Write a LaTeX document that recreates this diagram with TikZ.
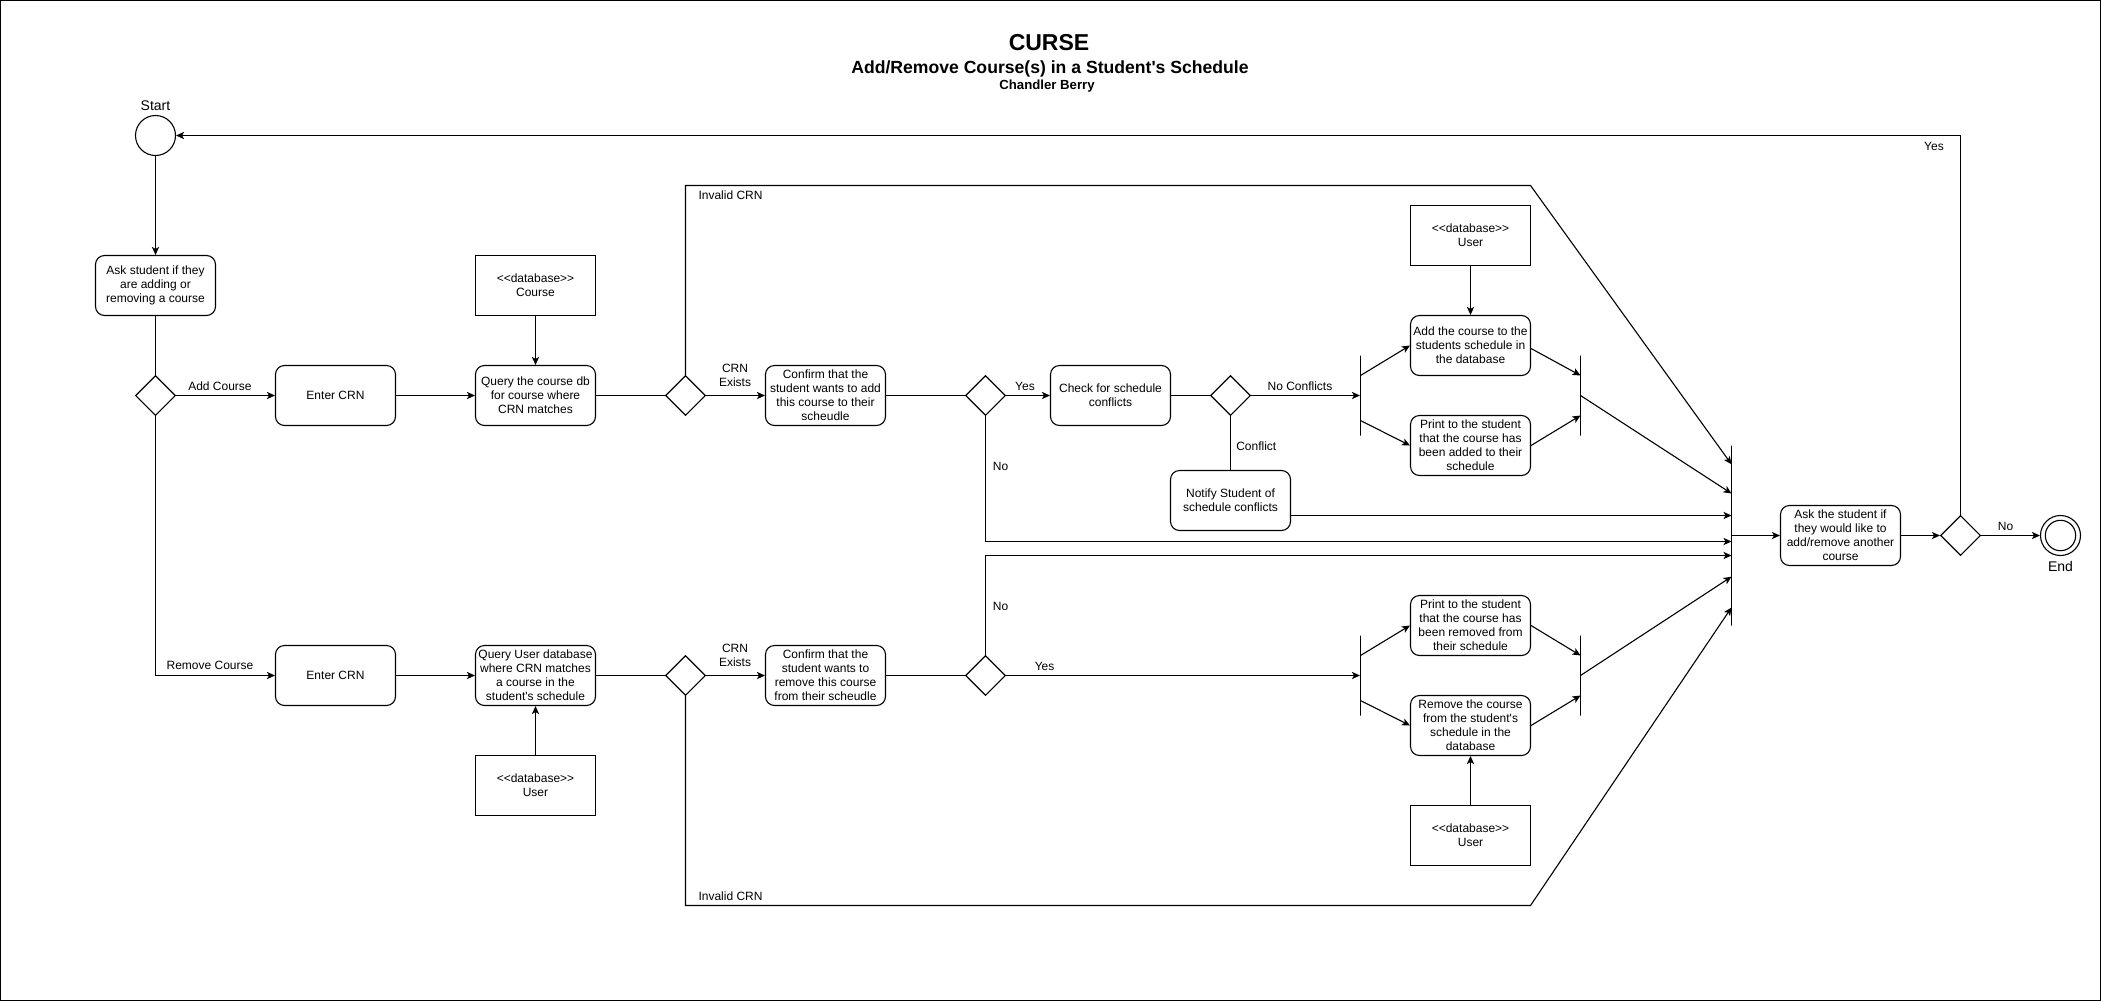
\documentclass[tikz,border=0pt]{standalone}
\usepackage{fontspec}
\newfontfamily\nf{Liberation Sans}
\usetikzlibrary{shapes.geometric,arrows.meta}
\begin{document}
\begin{tikzpicture}[x=0.5pt,y=-0.5pt, line width=0.55pt,
  >={Stealth[length=4pt,width=3.6pt,inset=1pt]},
  every node/.style={font=\nf\fontsize{6}{7}\selectfont, inner sep=0pt},
  act/.style={draw, rounded corners=4.5pt, minimum width=60pt, minimum height=30pt, align=center},
  dbbox/.style={draw, minimum width=60pt, minimum height=30pt, align=center},
  dec/.style={draw, diamond, aspect=1, minimum width=20pt, minimum height=20pt},
  barnode/.style={draw, rectangle, minimum width=0pt, inner sep=0pt},
  lbl/.style={align=center},
  biglbl/.style={font=\nf\fontsize{7}{8}\selectfont}]
\useasboundingbox (0,0) rectangle (2101,1002);
\draw (0.5,0.5) rectangle (2100.5,1000.5);

% title
\node[anchor=base, font=\nf\bfseries\fontsize{11.5}{13}\selectfont] (t1) at (1049,50) {CURSE};
\node[anchor=base, font=\nf\bfseries\fontsize{8.8}{10}\selectfont] (t2) at (1050,73) {Add/Remove Course(s) in a Student's Schedule};
\node[anchor=base, font=\nf\bfseries\fontsize{6.6}{8}\selectfont] (t3) at (1047,89.5) {Chandler Berry};

% start / end
\node[draw, circle, minimum size=20pt] (start) at (155.5,135.5) {};
\node[biglbl] (startlbl) at (155.5,106) {Start};
\node[draw, circle, minimum size=20pt] (end) at (2060.5,535.5) {};
\draw (end.center) circle[radius=7.6pt];
\node[biglbl] (endlbl) at (2060.5,566) {End};

% column 1
\node[act] (ask) at (155.5,285.5) {Ask student if they\\are adding or\\removing a course};
\node[dec] (d0) at (155.5,395.5) {};
\node[act] (enter1) at (335.5,395.5) {Enter CRN};
\node[act] (enter2) at (335.5,675.5) {Enter CRN};

% column 2
\node[dbbox] (dbc) at (535.5,285.5) {<<database>>\\Course};
\node[act] (qc) at (535.5,395.5) {Query the course db\\for course where\\CRN matches};
\node[act] (qu) at (535.5,675.5) {Query User database\\where CRN matches\\a course in the\\student's schedule};
\node[dbbox] (dbu2) at (535.5,785.5) {<<database>>\\User};

% column 3
\node[dec] (d1) at (685.5,395.5) {};
\node[dec] (d4) at (685.5,675.5) {};
\node[act] (conf1) at (825.5,395.5) {Confirm that the\\student wants to add\\this course to their\\scheudle};
\node[act] (conf2) at (825.5,675.5) {Confirm that the\\student wants to\\remove this course\\from their scheudle};
\node[dec] (d2) at (985.5,395.5) {};
\node[dec] (d5) at (985.5,675.5) {};
\node[act] (chk) at (1110.5,395.5) {Check for schedule\\conflicts};
\node[dec] (d3) at (1230.5,395.5) {};
\node[act] (notify) at (1230.5,500.5) {Notify Student of\\schedule conflicts};

% fork / join top
\node[barnode, minimum height=40pt] (fork1) at (1360.5,395.5) {};
\node[dbbox] (dbu1) at (1470.5,235.5) {<<database>>\\User};
\node[act] (addc) at (1470.5,345.5) {Add the course to the\\students schedule in\\the database};
\node[act] (prad) at (1470.5,445.5) {Print to the student\\that the course has\\been added to their\\schedule};
\node[barnode, minimum height=40pt] (join1) at (1580.5,395.5) {};

% fork / join bottom
\node[barnode, minimum height=40pt] (fork2) at (1360.5,675.5) {};
\node[act] (prrm) at (1470.5,625.5) {Print to the student\\that the course has\\been removed from\\their schedule};
\node[act] (rmc) at (1470.5,725.5) {Remove the course\\from the student's\\schedule in the\\database};
\node[dbbox] (dbu3) at (1470.5,835.5) {<<database>>\\User};
\node[barnode, minimum height=40pt] (join2) at (1580.5,675.5) {};

% merge and end
\node[barnode, minimum height=90pt] (merge) at (1731.5,535.5) {};
\node[act] (askag) at (1840.5,535.5) {Ask the student if\\they would like to\\add/remove another\\course};
\node[dec] (dfin) at (1960.5,535.5) {};

% connectors
\draw[->] (start) -- (ask);
\draw (ask) -- (d0);
\draw[->] (d0) -- (enter1);
\draw[->] (d0.south) |- (enter2.west);
\draw[->] (enter1) -- (qc);
\draw[->] (enter2) -- (qu);
\draw[->] (dbc) -- (qc);
\draw[->] (dbu2) -- (qu);
\draw (qc) -- (d1);
\draw (qu) -- (d4);
\draw[->] (d1) -- (conf1);
\draw[->] (d4) -- (conf2);
\draw (conf1) -- (d2);
\draw (conf2) -- (d5);
\draw[->] (d2) -- (chk);
\draw (chk) -- (d3);
\draw[->] (d3) -- (fork1);
\draw (d3) -- (notify);
\draw[->] (notify.east |- 0,515.5) -- (merge.center |- 0,515.5);
\draw[->] (d2.south) |- (merge.center |- 0,541.5);
\draw[->] (d5.north) |- (merge.center |- 0,555.5);
\draw[->] (d5) -- (fork2);
\draw[->] (d1.north) -- (685.5,185.5) -- (1530.5,185.5) -- (merge.center |- 0,464.3);
\draw[->] (d4.south) -- (685.5,905.5) -- (1530.5,905.5) -- (merge.center |- 0,607.5);

\draw[->] ([yshift=10pt]fork1.center) -- (addc.west);
\draw[->] ([yshift=-12.5pt]fork1.center) -- (prad.west);
\draw[->] ([yshift=-1.5pt]addc.east) -- ([yshift=10pt]join1.center);
\draw[->] (prad.east) -- ([yshift=-10pt]join1.center);
\draw[->] (join1.center) -- (merge.center |- 0,493.5);
\draw[->] (dbu1) -- (addc);

\draw[->] ([yshift=10pt]fork2.center) -- (prrm.west);
\draw[->] ([yshift=-12.5pt]fork2.center) -- (rmc.west);
\draw[->] (prrm.east) -- ([yshift=10pt]join2.center);
\draw[->] (rmc.east) -- ([yshift=-10pt]join2.center);
\draw[->] (join2.center) -- (merge.center |- 0,576.7);
\draw[->] (dbu3) -- (rmc);

\draw[->] (merge.center |- askag.west) -- (askag.west);
\draw[->] (askag) -- (dfin);
\draw[->] (dfin) -- (end);
\draw[->] (dfin.north) |- (start.east);

% labels
\node (lAdd) at (220,386) {Add Course};
\node (lRem) at (210,665.4) {Remove Course};
\node[anchor=west] (lInv1) at (698,195.7) {Invalid CRN};
\node[anchor=west] (lInv2) at (698,895.7) {Invalid CRN};
\node[lbl] (lEx1) at (735,375.5) {CRN\\Exists};
\node[lbl] (lEx2) at (735,655.7) {CRN\\Exists};
\node (lYes1) at (1025,386.7) {Yes};
\node (lNoC) at (1300,386.7) {No Conflicts};
\node[anchor=west] (lConf) at (1235.7,446.7) {Conflict};
\node (lNo1) at (1000.5,466.7) {No};
\node (lNo2) at (1000.5,606.7) {No};
\node (lYes2) at (1044.6,666.7) {Yes};
\node (lYes3) at (1934,146) {Yes};
\node (lNo3) at (2005.6,526.7) {No};
\end{tikzpicture}
\end{document}
